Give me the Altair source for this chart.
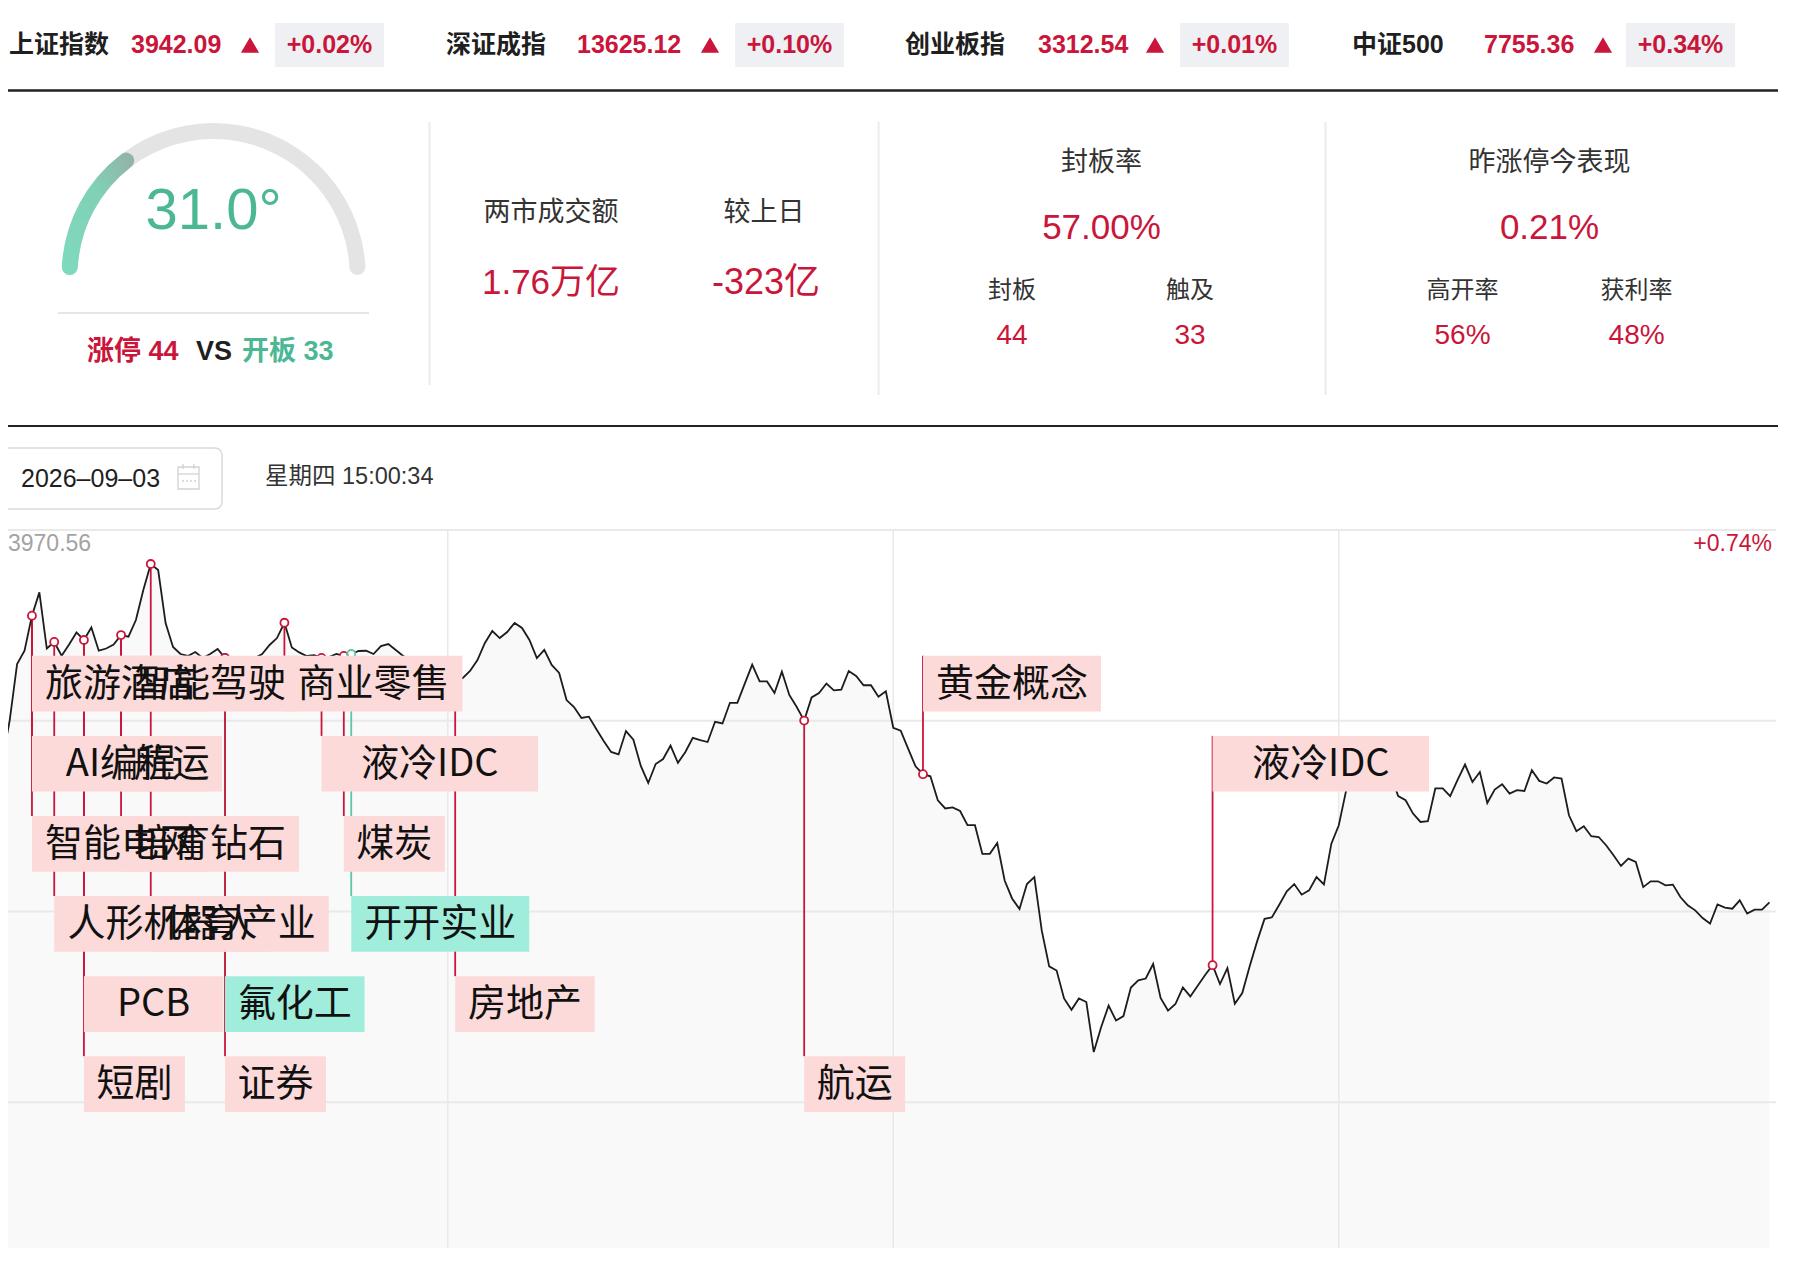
import altair as alt
import pandas as pd

# ---------------- data ----------------
INDEX_NAMES = ["上证指数", "深证成指", "创业板指", "中证500"]
INDEX_VALUES = ["3942.09", "13625.12", "3312.54", "7755.36"]
INDEX_PCTS = ["+0.02%", "+0.10%", "+0.01%", "+0.34%"]

SENTIMENT = 31.0
LIMIT_UP = 44
BROKEN = 33
TURNOVER = "1.76万亿"
TURNOVER_CHG = "-323亿"
SEAL_RATE = "57.00%"
SEALED = 44
TOUCHED = 33
YDAY_PERF = "0.21%"
HIGH_OPEN = "56%"
PROFIT_RATE = "48%"
DATE_STR = "2026–09–03"
TIME_STR = "星期四 15:00:34"

TOP_PRICE = 3970.56
TOP_PCT = 0.74

MINUTES = list(range(239))
PRICES = [
    3952.98, 3955.98, 3960.32, 3961.33, 3964.01, 3965.79, 3961.50, 3962.00, 3960.95, 3961.80,
    3962.73, 3962.15, 3963.11, 3961.33, 3961.50, 3961.80, 3962.53, 3962.40, 3963.68, 3965.97,
    3967.96, 3967.50, 3963.45, 3961.62, 3961.08, 3960.93, 3961.23, 3960.78, 3961.08, 3961.46,
    3960.78, 3960.47, 3960.62, 3960.47, 3960.78, 3961.08, 3961.77, 3962.30, 3963.47, 3961.58,
    3961.20, 3960.93, 3961.00, 3960.78, 3960.85, 3961.08, 3960.93, 3961.08, 3961.31, 3961.33,
    3961.08, 3961.69, 3961.84, 3961.39, 3960.93, 3960.62, 3960.24, 3959.86, 3959.70, 3959.47,
    3959.24, 3959.09, 3959.24, 3959.78, 3960.62, 3961.92, 3962.84, 3962.30, 3962.76, 3963.45,
    3963.07, 3962.15, 3960.77, 3961.39, 3960.24, 3959.63, 3957.56, 3957.03, 3956.19, 3956.29,
    3955.34, 3954.43, 3953.59, 3953.40, 3955.19, 3954.53, 3952.52, 3951.22, 3952.67, 3953.05,
    3954.08, 3952.76, 3953.59, 3954.67, 3954.50, 3954.35, 3955.90, 3955.77, 3957.35, 3957.35,
    3958.82, 3960.27, 3958.98, 3958.98, 3958.10, 3959.73, 3957.95, 3957.03, 3955.99, 3957.76,
    3958.10, 3958.82, 3958.30, 3958.36, 3959.78, 3959.40, 3958.69, 3958.69, 3957.81, 3958.23,
    3955.44, 3955.22, 3953.85, 3952.49, 3951.89, 3951.73, 3949.90, 3949.27, 3949.35, 3949.08,
    3947.99, 3947.99, 3945.80, 3945.80, 3946.63, 3943.76, 3942.39, 3941.58, 3943.49, 3944.03,
    3939.93, 3937.20, 3936.88, 3934.75, 3933.88, 3934.75, 3934.47, 3930.65, 3932.56, 3934.20,
    3933.06, 3933.40, 3935.58, 3936.13, 3936.27, 3937.38, 3934.78, 3933.82, 3934.32, 3935.58,
    3934.90, 3935.72, 3936.54, 3937.29, 3935.85, 3937.07, 3934.34, 3935.16, 3937.20, 3939.11,
    3940.83, 3940.95, 3941.93, 3942.94, 3943.49, 3942.68, 3943.01, 3944.03, 3943.47, 3946.58,
    3947.99, 3950.67, 3952.21, 3952.97, 3953.74, 3952.82, 3953.13, 3951.83, 3950.22, 3949.90,
    3948.88, 3948.24, 3948.30, 3950.80, 3950.80, 3950.21, 3951.45, 3952.63, 3951.30, 3952.06,
    3949.69, 3950.72, 3951.12, 3950.41, 3950.67, 3950.61, 3952.19, 3951.38, 3951.18, 3951.64,
    3951.56, 3948.75, 3947.53, 3947.91, 3947.15, 3947.09, 3946.46, 3945.69, 3944.88, 3945.44,
    3945.18, 3943.26, 3943.70, 3943.70, 3943.39, 3943.45, 3942.50, 3941.87, 3941.48, 3940.89,
    3940.47, 3941.94, 3941.69, 3941.61, 3942.25, 3941.23, 3941.54, 3941.54, 3942.09,
]

EVENT_LABELS = ["旅游酒店", "AI编程", "智能电网", "人形机器人", "PCB", "短剧",
                "智能驾驶", "航运", "培育钻石", "体育产业", "氟化工", "证券",
                "商业零售", "液冷IDC", "煤炭", "开开实业", "房地产", "航运",
                "黄金概念", "液冷IDC"]
EVENT_MINUTES = [4, 4, 4, 7, 11, 11, 16, 16, 16, 20, 30, 30, 38, 43, 46, 47, 61, 108, 124, 163]
EVENT_ROWS = [1, 2, 3, 4, 5, 6, 1, 2, 3, 4, 5, 6, 1, 2, 3, 4, 5, 6, 1, 2]
EVENT_KINDS = ["up", "up", "up", "up", "up", "up", "up", "up", "up", "up", "open", "up",
               "up", "up", "up", "open", "up", "up", "up", "up"]

# ---------------- styles / layout ----------------
RED = "#c9163a"
GREEN_TXT = "#4cb793"
GREEN_LINE = "#5cc7a6"
DARK = "#1f1f1f"
MID = "#333333"
PINK = "#fcdada"
MINT = "#a0eddb"
GRID = "#e9e9e9"
BADGE = "#eff0f4"
FONT_L = "Liberation Sans, Noto Sans CJK SC, sans-serif"
FONT_C = "Noto Sans CJK SC, sans-serif"

W, H = 1800, 1240
ONE = pd.DataFrame({"k": [0]})


def P(v):
    return v - 8


layers = []


def add_text(txt, x, y, size, color, weight="normal", align="center", font=FONT_L):
    layers.append(
        alt.Chart(ONE).mark_text(text=txt, align=align, baseline="middle", fontSize=size,
                                 fontWeight=weight, color=color, font=font)
        .encode(x=alt.value(P(x)), y=alt.value(P(y)))
    )


def add_rect(x0, x1, y0, y1, fill, stroke=None, sw=1, r=0):
    kw = {"fill": fill}
    if stroke:
        kw["stroke"] = stroke
        kw["strokeWidth"] = sw
    if r:
        kw["cornerRadius"] = r
    layers.append(
        alt.Chart(ONE).mark_rect(**kw)
        .encode(x=alt.value(P(x0)), x2=alt.value(P(x1)), y=alt.value(P(y0)), y2=alt.value(P(y1)))
    )


def add_hline(x0, x1, y, color, w, dash=None):
    kw = {"color": color, "strokeWidth": w}
    if dash:
        kw["strokeDash"] = dash
    layers.append(
        alt.Chart(ONE).mark_rule(**kw)
        .encode(x=alt.value(P(x0)), x2=alt.value(P(x1)), y=alt.value(P(y)))
    )


def add_vline(x, y0, y1, color, w):
    layers.append(
        alt.Chart(ONE).mark_rule(color=color, strokeWidth=w)
        .encode(x=alt.value(P(x)), y=alt.value(P(y0)), y2=alt.value(P(y1)))
    )


# ---------------- header ----------------
NAME_X = [9, 446, 905, 1352]
VAL_X = [131, 577, 1038, 1484]
TRI_X = [250, 710, 1155, 1603]
BADGE_X = [275, 735, 1180, 1626]
BADGE_W = 109
HY = 45
for i in range(4):
    add_rect(BADGE_X[i], BADGE_X[i] + BADGE_W, 23, 67, BADGE)
    add_text(INDEX_NAMES[i], NAME_X[i], HY, 25, DARK, "bold", "left")
    add_text(INDEX_VALUES[i], VAL_X[i], HY, 25, RED, "bold", "left")
    add_text(INDEX_PCTS[i], BADGE_X[i] + BADGE_W / 2, HY, 25, RED, "bold", "center")
    layers.append(
        alt.Chart(ONE).mark_point(shape="triangle-up", filled=True, size=330, color=RED, opacity=1)
        .encode(x=alt.value(P(TRI_X[i])), y=alt.value(P(HY)))
    )
add_hline(0, 1778, 90.5, "#222222", 2.5)

# ---------------- gauge ----------------
GX, GY = 213.6, 275
A0, A1 = 4.712389, 7.853982
layers.append(
    alt.Chart(ONE).mark_arc(color="#e4e4e4", theta=A0, theta2=A1, radius=152, radius2=136, cornerRadius=8)
    .encode(x=alt.value(P(GX)), y=alt.value(P(GY)))
)
gauge_df = pd.DataFrame({"start": [0.0], "value": [SENTIMENT]})
layers.append(
    alt.Chart(gauge_df).mark_arc(
        radius=152, radius2=136, cornerRadius=8,
        color=alt.Gradient(gradient="linear",
                           stops=[alt.GradientStop(color="#7fdabf", offset=0),
                                  alt.GradientStop(color="#80d0b5", offset=0.6),
                                  alt.GradientStop(color="#95b0a6", offset=1)],
                           x1=0, y1=1, x2=1, y2=0))
    .encode(theta=alt.Theta("start:Q", stack=None, scale=alt.Scale(domain=[0, 100], range=[A0, A1])),
            theta2="value:Q", x=alt.value(P(GX)), y=alt.value(P(GY)))
)
add_text(f"{SENTIMENT:.1f}°", GX, 212, 58, GREEN_TXT)
add_hline(58, 369, 313, "#e6e6e6", 2)
add_text(f"涨停 {LIMIT_UP}", 87, 352, 27, RED, "bold", "left")
add_text("VS", 196, 352, 27, DARK, "bold", "left")
add_text(f"开板 {BROKEN}", 242, 352, 27, GREEN_TXT, "bold", "left")

# ---------------- stats ----------------
add_vline(429.5, 122, 385, "#ececec", 2)
add_vline(878.6, 122, 395, "#ececec", 2)
add_vline(1325.5, 122, 395, "#ececec", 2)

add_text("两市成交额", 551, 213, 27, MID)
add_text("较上日", 764, 213, 27, MID)
add_text(TURNOVER, 551, 283, 35, RED)
add_text(TURNOVER_CHG, 766, 283, 36, RED)

add_text("封板率", 1101.5, 163, 27, MID)
add_text(SEAL_RATE, 1101.5, 228, 35, RED)
add_text("封板", 1012, 291, 24, MID)
add_text("触及", 1190, 291, 24, MID)
add_text(str(SEALED), 1012, 336, 28, RED)
add_text(str(TOUCHED), 1190, 336, 28, RED)

add_text("昨涨停今表现", 1549.5, 163, 27, MID)
add_text(YDAY_PERF, 1549.5, 228, 35, RED)
add_text("高开率", 1462.5, 291, 24, MID)
add_text("获利率", 1636.6, 291, 24, MID)
add_text(HIGH_OPEN, 1462.5, 336, 28, RED)
add_text(PROFIT_RATE, 1636.6, 336, 28, RED)

add_hline(0, 1778, 426, "#222222", 2)

# ---------------- date row ----------------
add_rect(1, 222, 448, 509, "white", "#dadada", 1.5, 7)
add_text(DATE_STR, 21, 479, 25, DARK, "normal", "left")
add_rect(178, 199, 467, 489, "white", "#d2d2d2", 1.3)
add_hline(178, 199, 474, "#d2d2d2", 1.3)
add_vline(183, 464, 469, "#d2d2d2", 1.3)
add_vline(194, 464, 469, "#d2d2d2", 1.3)
add_hline(182, 196, 481, "#d2d2d2", 1.3, [2, 2])
add_text(TIME_STR, 265, 477, 23.5, MID, "normal", "left")

# ---------------- intraday chart ----------------
PREV = TOP_PRICE / (1 + TOP_PCT / 100)
HALF = (TOP_PRICE - PREV) / 2
Y_TOP_PX, Y_ZERO_PX = 530, 911.5
X0_PX, X240_PX = 2.25, 1784.3
PX_PER_PT = (Y_ZERO_PX - Y_TOP_PX) / (TOP_PRICE - PREV)
MIN_PER_PX = 240 / (X240_PX - X0_PX)

XS = alt.Scale(domain=[0, 240], range=[P(X0_PX), P(X240_PX)])
YS = alt.Scale(domain=[PREV, TOP_PRICE], range=[P(Y_ZERO_PX), P(Y_TOP_PX)])


def price_at(ypx):
    return TOP_PRICE - (ypx - Y_TOP_PX) / PX_PER_PT


series = pd.DataFrame({"t": MINUTES, "p": PRICES})
series["base"] = price_at(1262)

# area fill under the line
layers.append(
    alt.Chart(series).mark_area(color="#f9f9fa", opacity=1)
    .encode(x=alt.X("t:Q", scale=XS, axis=None), y=alt.Y("p:Q", scale=YS, axis=None), y2="base:Q")
)

# gridlines
grid_p = pd.DataFrame({"p": [TOP_PRICE - k * HALF for k in range(4)]})
layers.append(
    alt.Chart(grid_p).mark_rule(color=GRID, strokeWidth=2)
    .encode(y=alt.Y("p:Q", scale=YS, axis=None), x=alt.value(0), x2=alt.value(P(1776)))
)
grid_t = pd.DataFrame({"t": [60, 120, 180]})
layers.append(
    alt.Chart(grid_t).mark_rule(color=GRID, strokeWidth=1.5)
    .encode(x=alt.X("t:Q", scale=XS, axis=None), y=alt.value(P(Y_TOP_PX)), y2=alt.value(H))
)

# events table
ROW0_TOP, ROW_STEP, BOX_H, CHAR_W, PAD = 655.8, 80.1, 55.7, 38.5, 12
ev = pd.DataFrame({"label": EVENT_LABELS, "t": EVENT_MINUTES, "row": EVENT_ROWS, "kind": EVENT_KINDS})
ev["p"] = [PRICES[m] for m in ev["t"]]
ev["w"] = ev["label"].str.len() * CHAR_W + 2 * PAD
ev["t2"] = ev["t"] + ev["w"] * MIN_PER_PX
ev["tc"] = ev["t"] + ev["w"] / 2 * MIN_PER_PX
top_px = ROW0_TOP + (ev["row"] - 1) * ROW_STEP
ev["ytop"] = price_at(top_px)
ev["ybot"] = price_at(top_px + BOX_H)
ev["ymid"] = price_at(top_px + BOX_H / 2 + 1)
ev["linecol"] = ev["kind"].map({"up": RED, "open": GREEN_LINE})
ev["boxcol"] = ev["kind"].map({"up": PINK, "open": MINT})
ev_rules = ev.assign(o=ev["kind"].map({"open": 0, "up": 1})).sort_values(["o"], kind="stable")

layers.append(
    alt.Chart(ev_rules).mark_rule(strokeWidth=1.8)
    .encode(x=alt.X("t:Q", scale=XS, axis=None), y=alt.Y("p:Q", scale=YS, axis=None), y2="ytop:Q",
            color=alt.Color("linecol:N", scale=None))
)

# price line
layers.append(
    alt.Chart(series).mark_line(color="#1c1c1c", strokeWidth=1.8)
    .encode(x=alt.X("t:Q", scale=XS, axis=None), y=alt.Y("p:Q", scale=YS, axis=None))
)

# markers
mk = ev.drop_duplicates(["t", "kind"])
layers.append(
    alt.Chart(mk).mark_circle(color="white", size=64, opacity=1)
    .encode(x=alt.X("t:Q", scale=XS, axis=None), y=alt.Y("p:Q", scale=YS, axis=None))
)
layers.append(
    alt.Chart(mk).mark_point(filled=False, size=64, strokeWidth=1.8, opacity=1)
    .encode(x=alt.X("t:Q", scale=XS, axis=None), y=alt.Y("p:Q", scale=YS, axis=None),
            color=alt.Color("linecol:N", scale=None))
)

# label boxes + texts
layers.append(
    alt.Chart(ev).mark_rect()
    .encode(x=alt.X("t:Q", scale=XS, axis=None), x2="t2:Q",
            y=alt.Y("ytop:Q", scale=YS, axis=None), y2="ybot:Q",
            color=alt.Color("boxcol:N", scale=None))
)
layers.append(
    alt.Chart(ev).mark_text(fontSize=38, font=FONT_C, color="#111111", align="center", baseline="middle")
    .encode(x=alt.X("tc:Q", scale=XS, axis=None), y=alt.Y("ymid:Q", scale=YS, axis=None), text="label:N")
)

# corner texts
add_text(f"{TOP_PRICE:.2f}", 8, 544, 23, "#a3a3a3", "normal", "left")
add_text(f"+{TOP_PCT:.2f}%", 1772, 544, 23, RED, "normal", "right")

chart = (
    alt.layer(*layers)
    .properties(width=W, height=H, autosize=alt.AutoSizeParams(type="none"), padding=0)
    .configure_view(stroke=None)
)

chart.save("out.html", embed_options={"renderer": "svg", "actions": False})
